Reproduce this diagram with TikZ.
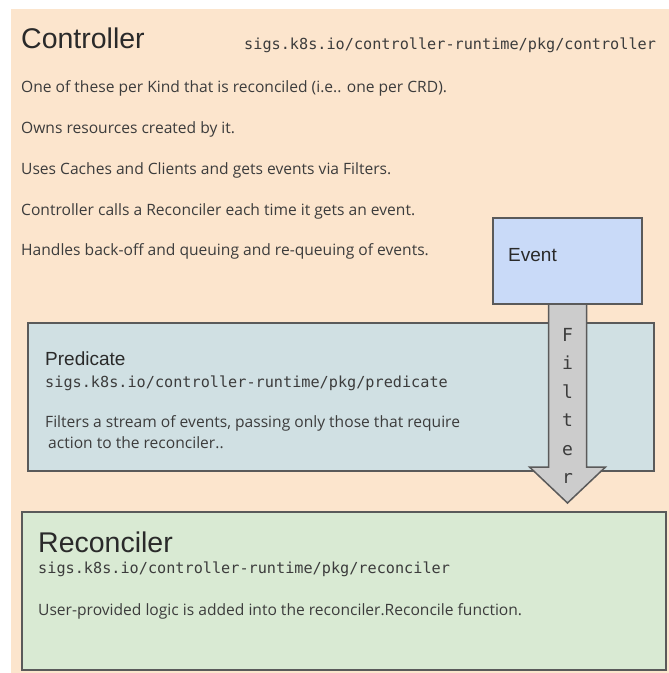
\documentclass[tikz,border=0pt]{standalone}
\usepackage{fontspec}
\setmainfont{Liberation Sans}
\newfontfamily\monof{DejaVu Sans Mono}
\newfontfamily\bodyf{Open Sans}
\usetikzlibrary{calc}

\definecolor{peach}{HTML}{FCE5CD}
\definecolor{eventfill}{HTML}{C9DAF8}
\definecolor{predfill}{HTML}{D0E0E3}
\definecolor{recfill}{HTML}{D9EAD3}
\definecolor{arrowfill}{HTML}{CCCCCC}
\definecolor{edge}{HTML}{5A5A5A}
\definecolor{ink}{HTML}{2A2A2A}
\definecolor{softink}{HTML}{3C3C3C}

\tikzset{
  panel/.style={draw=edge, line width=1.5pt, anchor=north west, inner sep=0pt, outer sep=0pt},
  txt/.style={anchor=base west, inner sep=0pt, text=ink},
  title/.style={txt, font=\fontsize{28.5}{32}\selectfont},
  subtitle/.style={txt, font=\fontsize{19}{22}\selectfont},
  body/.style={txt, text=softink, font=\bodyf\fontsize{15.6}{18}\selectfont},
  pkg/.style={txt, text=softink, font=\monof\fontsize{15.2}{18}\selectfont},
  filtchar/.style={anchor=base, inner sep=0pt, text=softink, font=\monof\fontsize{18}{20}\selectfont},
  blockarrow/.style={draw=edge, fill=arrowfill, line width=1.5pt, line join=miter},
}

\begin{document}
\begin{tikzpicture}[x=1pt, y=-1pt]
\useasboundingbox (0,0) rectangle (669,673);

% controller background
\node[anchor=north west, fill=peach, inner sep=0pt, outer sep=0pt,
      minimum width=658pt, minimum height=664pt] (ctrl) at (11,9) {};

\node[title] (ctrltitle) at (21,48) {Controller};
\node[pkg] (ctrlpkg) at (244,49) {sigs.k8s.io/controller-runtime/pkg/controller};
\node[body] (c1) at (21,92)  {One of these per Kind that is reconciled (i.e.. one per CRD).};
\node[body] (c2) at (21,133) {Owns resources created by it.};
\node[body] (c3) at (21,174) {Uses Caches and Clients and gets events via Filters.};
\node[body] (c4) at (21,215) {Controller calls a Reconciler each time it gets an event.};
\node[body] (c5) at (21,255) {Handles back-off and queuing and re-queuing of events.};

% predicate panel
\node[panel, fill=predfill, minimum width=626pt, minimum height=148pt] (pred) at (28,323) {};
\node[subtitle] (predtitle) at (45,365) {Predicate};
\node[pkg] (predpkg) at (45,387) {sigs.k8s.io/controller-runtime/pkg/predicate};
\node[body] (p1) at (45,427) {Filters a stream of events, passing only those that require};
\node[body] (p2) at (48,448) {action to the reconciler..};

% reconciler panel
\node[panel, fill=recfill, minimum width=644pt, minimum height=158pt] (rec) at (22,512) {};
\node[title] (rectitle) at (38,552) {Reconciler};
\node[pkg] (recpkg) at (38,573) {sigs.k8s.io/controller-runtime/pkg/reconciler};
\node[body] (r1) at (38,615) {User-provided logic is added into the reconciler.Reconcile function.};

% event box
\node[panel, fill=eventfill, minimum width=149pt, minimum height=86pt] (event) at (493,218) {};
\node[subtitle] (eventlabel) at (508,261) {Event};

% filter arrow from the event down to the reconciler
\coordinate (tip) at ($(event.south)+(0,199)$);
\draw[blockarrow] ([xshift=-19pt]event.south) -- ++(0,163) -- ++(-19,0) -- (tip)
  -- ++(38,-36) -- ++(-19,0) -- ([xshift=19pt]event.south) -- cycle;
\foreach \ch [count=\i] in {F,i,l,t,e,r}
  \node[filtchar] (filt\i) at ($(event.south)+(0,{37+28.5*(\i-1)})$) {\ch};
\end{tikzpicture}
\end{document}
